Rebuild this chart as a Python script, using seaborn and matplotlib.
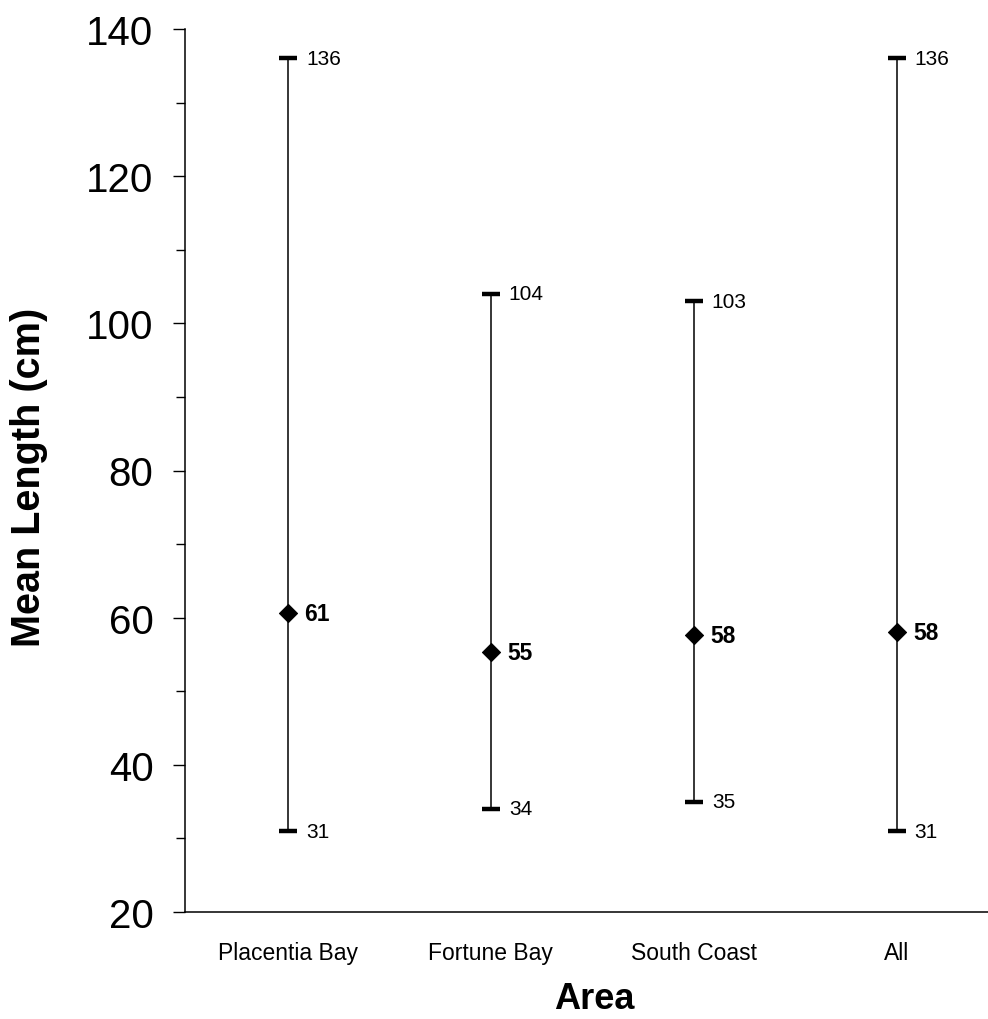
import matplotlib
matplotlib.use("Agg")
import matplotlib.pyplot as plt
import seaborn as sns
import pandas as pd
from matplotlib.ticker import MultipleLocator

areas = ["Placentia Bay", "Fortune Bay", "South Coast", "All"]
mean_len = [60.6, 55.3, 57.6, 58.0]
mean_lbl = ["61", "55", "58", "58"]
max_len = [136, 104, 103, 136]
min_len = [31, 34, 35, 31]

df = pd.DataFrame({"Area": areas, "mean": mean_len, "max": max_len, "min": min_len})

sns.set_theme(style="ticks")
plt.rcParams["font.family"] = ["Liberation Sans", "DejaVu Sans"]
plt.rcParams["text.color"] = "black"
plt.rcParams["xtick.color"] = "black"
plt.rcParams["ytick.color"] = "black"
plt.rcParams["axes.labelcolor"] = "black"

fig = plt.figure(figsize=(9.88, 10.2), dpi=100)
ax = fig.add_axes([185/988, 1-913/1020, 1-185/988, (913-30)/1020])

ax.vlines(df["Area"], df["min"], df["max"], color="black", linewidth=1.1, zorder=2)
sns.scatterplot(data=df, x="Area", y="max", marker="_", s=150, linewidth=3.2,
                color="black", ax=ax, zorder=3)
sns.scatterplot(data=df, x="Area", y="min", marker="_", s=150, linewidth=3.2,
                color="black", ax=ax, zorder=3)
sns.scatterplot(data=df, x="Area", y="mean", marker="D", s=85, color="black",
                edgecolor="black", ax=ax, zorder=4)

for i, row in df.iterrows():
    ax.annotate(str(row["max"]), (i, row["max"]), xytext=(13, 0), textcoords="offset points",
                va="center", ha="left", fontsize=15)
    ax.annotate(str(row["min"]), (i, row["min"]), xytext=(13, 0), textcoords="offset points",
                va="center", ha="left", fontsize=15)
    ax.annotate(mean_lbl[i], (i, row["mean"]), xytext=(12, 0), textcoords="offset points",
                va="center", ha="left", fontsize=16.5, fontweight="bold")

ax.set_xlim(-0.507, 3.45)
ax.set_ylim(20, 140)
ax.yaxis.set_major_locator(MultipleLocator(20))
ax.yaxis.set_minor_locator(MultipleLocator(10))
ax.tick_params(axis="y", which="major", length=8.6, width=1, direction="out", labelsize=29, pad=14)
ax.tick_params(axis="y", which="minor", length=6.5, width=1, direction="out")
ax.tick_params(axis="x", length=0, labelsize=16.5, pad=21)

sns.despine(ax=ax)
for s in ("left", "bottom"):
    ax.spines[s].set_color("black")
    ax.spines[s].set_linewidth(1.1)
ax.set_xlabel("")
ax.set_ylabel("")

fig.text(29/988, 1-477/1020, "Mean Length (cm)", rotation=90, ha="center", va="center",
         fontsize=28.5, fontweight="bold")
fig.text(594/988, 1-1000/1020, "Area", ha="center", va="center",
         fontsize=26, fontweight="bold")

fig.savefig("out.png", dpi=100, facecolor="white")
